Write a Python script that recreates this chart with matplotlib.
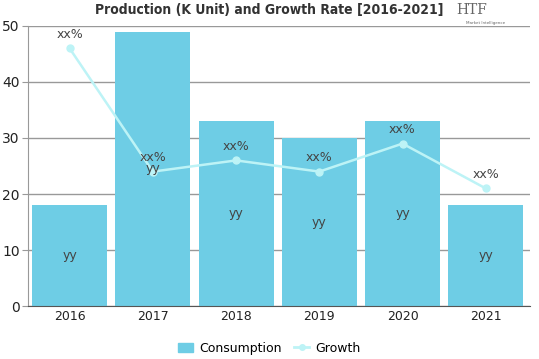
import matplotlib
matplotlib.use("Agg")
import matplotlib.pyplot as plt
from matplotlib.patches import Patch
from matplotlib.lines import Line2D

years = ["2016", "2017", "2018", "2019", "2020", "2021"]
consumption = [18, 49, 33, 30, 33, 18]
growth = [46, 24, 26, 24, 29, 21]
bar_labels = ["yy"] * 6
growth_labels = ["xx%"] * 6

bar_color = "#6ECDE5"
line_color = "#BDF3F6"

fig = plt.figure(figsize=(5.39, 3.59), dpi=100)
ax = fig.add_axes([0.052, 0.1476, 0.931, 0.78])
x = list(range(len(years)))
ax.bar(x, consumption, width=0.9, color=bar_color, zorder=2)
ax.plot(x, growth, color=line_color, lw=1.8, marker="o", ms=5, zorder=3)
for xi, c, lab in zip(x, consumption, bar_labels):
    ax.text(xi, c / 2, lab, ha="center", va="center", fontsize=9, color="#444444", zorder=4)
for xi, g, lab in zip(x, growth, growth_labels):
    ax.text(xi, g + 1.4, lab, ha="center", va="bottom", fontsize=9, color="#444444", zorder=4)

ax.set_xlim(-0.5, 5.53)
ax.set_ylim(0, 50)
ax.set_yticks([0, 10, 20, 30, 40, 50])
ax.set_xticks(x)
ax.set_xticklabels(years)
ax.yaxis.grid(True, color="#999999", lw=1, zorder=0)
ax.set_axisbelow(True)
for s in ["top", "right"]:
    ax.spines[s].set_visible(False)
ax.spines["left"].set_color("#999999")
ax.spines["bottom"].set_color("#555555")
ax.tick_params(axis="y", length=4, color="#999999", labelsize=10, labelcolor="#222222", pad=2)
ax.tick_params(axis="x", length=0, labelsize=9, labelcolor="#222222", pad=3)

fig.text(0.50, 0.972, "Production (K Unit) and Growth Rate [2016-2021]", ha="center", va="center",
         fontsize=10, fontweight="heavy", fontstretch="condensed", color="#333333")
fig.text(0.875, 0.972, "HTF", ha="center", va="center", fontsize=10, color="#666666", family="DejaVu Serif")
fig.text(0.90, 0.935, "Market Intelligence", ha="center", va="center", fontsize=3, color="#666666")

handles = [Patch(color=bar_color, label="Consumption"),
           Line2D([0], [0], color=line_color, lw=2, marker="o", ms=4, label="Growth")]
fig.legend(handles=handles, loc="center", bbox_to_anchor=(0.5, 0.03), ncol=2, frameon=False,
           fontsize=9, handlelength=1.2, columnspacing=1.0, handletextpad=0.5)

fig.savefig("out.png", dpi=100)
